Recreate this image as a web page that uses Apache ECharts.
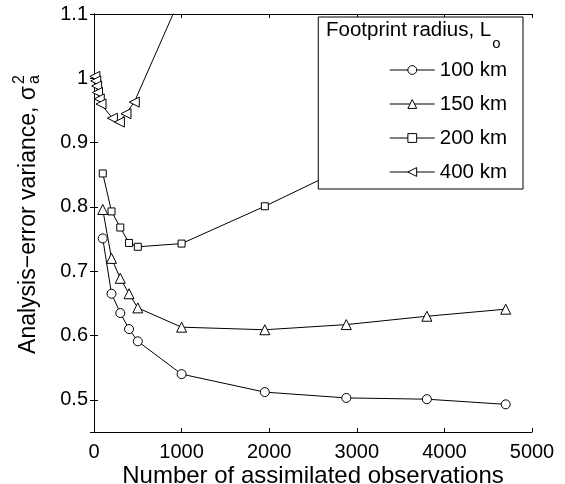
<!DOCTYPE html>
<html>
<head>
<meta charset="utf-8">
<script src="https://cdn.jsdelivr.net/npm/echarts@6/dist/echarts.min.js"></script>
<style>
  html, body { margin: 0; padding: 0; background: #fff; }
  #chart { width: 565px; height: 484px; }
</style>
</head>
<body>
<div id="chart"></div>
<script>
const FONT = "'Liberation Sans', Arial, sans-serif";

// footprint radius 100 km
const obs100 = [100, 200, 300, 400, 500, 1000, 1950, 2880, 3800, 4700];
const var100 = [0.751, 0.665, 0.635, 0.610, 0.591, 0.540, 0.512, 0.503, 0.501, 0.493];
// 150 km
const obs150 = [100, 200, 300, 400, 500, 1000, 1950, 2880, 3800, 4700];
const var150 = [0.796, 0.720, 0.689, 0.665, 0.643, 0.613, 0.609, 0.617, 0.630, 0.641];
// 200 km (rest goes under the legend)
const obs200 = [100, 200, 300, 400, 500, 1000, 1950, 2880];
const var200 = [0.852, 0.793, 0.768, 0.744, 0.738, 0.743, 0.801, 0.862];
// 400 km (runs off the top)
const obs400 = [10, 20, 30, 40, 60, 80, 210, 290, 365, 460, 1000];
const var400 = [1.003, 0.996, 0.988, 0.978, 0.968, 0.960, 0.938, 0.932, 0.945, 0.963, 1.13];

const seriesNames = ['100 km', '150 km', '200 km', '400 km'];
const xTicks = [0, 1000, 2000, 3000, 4000, 5000];

const pairs = (xs, ys) => xs.map((x, i) => [x, ys[i]]);

const chart = echarts.init(document.getElementById('chart'));

const axisLine = { show: true, lineStyle: { color: '#000', width: 1 } };
const axisTick = { show: true, inside: true, length: 4, lineStyle: { color: '#000' } };

function lineSeries(name, data, symbol, size) {
  return {
    name: name,
    type: 'line',
    data: data,
    symbol: symbol,
    symbolSize: size,
    showAllSymbol: true,
    lineStyle: { color: '#000', width: 1 },
    itemStyle: { color: '#fff', borderColor: '#000', borderWidth: 1 },
    emphasis: { disabled: true },
    z: 2
  };
}

const option = {
  animation: false,
  backgroundColor: '#fff',
  textStyle: { fontFamily: FONT },
  grid: { left: 94, right: 33, top: 14, bottom: 52, containLabel: false, outerBoundsMode: 'none' },
  title: {
    text: '{a|Footprint radius, L}{b|o}',
    left: 326,
    top: 20,
    padding: 0,
    textStyle: {
      rich: {
        a: { fontFamily: FONT, fontSize: 20.5, fontWeight: 'normal', color: '#000', lineHeight: 24, verticalAlign: 'top' },
        b: { fontFamily: FONT, fontSize: 15, fontWeight: 'normal', color: '#000', lineHeight: 15, padding: [16, 0, 0, 1], verticalAlign: 'top' }
      }
    }
  },
  legend: {
    data: seriesNames,
    orient: 'vertical',
    right: 42,
    top: 17,
    padding: [41, 16, 5, 71],
    itemWidth: 45,
    itemHeight: 11,
    itemGap: 10,
    backgroundColor: '#fff',
    borderColor: '#000',
    borderWidth: 1,
    selectedMode: false,
    lineStyle: { width: 1, color: '#000' },
    itemStyle: { borderWidth: 1, borderColor: '#000', color: '#fff' },
    textStyle: { fontFamily: FONT, fontSize: 20.5, color: '#000', lineHeight: 24 }
  },
  xAxis: [
    {
      type: 'value', min: xTicks[0], max: xTicks[xTicks.length - 1], interval: 1000,
      position: 'bottom',
      axisLine: axisLine, axisTick: axisTick, splitLine: { show: false },
      axisLabel: { fontFamily: FONT, fontSize: 20, color: '#000', margin: 10, formatter: v => String(v) },
      name: 'Number of assimilated observations',
      nameLocation: 'middle',
      nameGap: 32,
      nameMoveOverlap: false,
      nameTextStyle: { fontFamily: FONT, fontSize: 24, color: '#000' }
    },
    {
      type: 'value', min: xTicks[0], max: xTicks[xTicks.length - 1], interval: 1000,
      position: 'top',
      axisLine: axisLine, axisTick: axisTick, splitLine: { show: false },
      axisLabel: { show: false }
    }
  ],
  yAxis: [
    {
      type: 'value', min: 0.45, max: 1.1, splitNumber: 5,
      position: 'left',
      axisLine: axisLine, axisTick: axisTick, splitLine: { show: false },
      axisLabel: {
        fontFamily: FONT, fontSize: 20, color: '#000', margin: 6,
        formatter: v => (Math.abs(v - 0.45) < 1e-6 ? '' : String(+v.toFixed(2)))
      }
    },
    {
      type: 'value', min: 0.45, max: 1.1, splitNumber: 5,
      position: 'right',
      axisLine: axisLine, axisTick: axisTick, splitLine: { show: false },
      axisLabel: { show: false }
    }
  ],
  graphic: [
    {
      type: 'group',
      x: 29,
      y: 86,
      rotation: Math.PI / 2,
      children: [
        {
          type: 'text',
          style: {
            text: 'Analysis\u2212error variance, \u03c3',
            x: 0, y: 0,
            textAlign: 'right', textVerticalAlign: 'middle', verticalAlign: 'middle',
            font: '23px ' + FONT, fill: '#000'
          }
        },
        {
          type: 'text',
          style: {
            text: '2', x: 2, y: -9,
            textAlign: 'left', textVerticalAlign: 'middle', verticalAlign: 'middle',
            font: '16px ' + FONT, fill: '#000'
          }
        },
        {
          type: 'text',
          style: {
            text: 'a', x: 2, y: 6,
            textAlign: 'left', textVerticalAlign: 'middle', verticalAlign: 'middle',
            font: '16px ' + FONT, fill: '#000'
          }
        }
      ]
    }
  ],
  series: [
    lineSeries(seriesNames[0], pairs(obs100, var100), 'circle', 9),
    lineSeries(seriesNames[1], pairs(obs150, var150), 'triangle', 10),
    lineSeries(seriesNames[2], pairs(obs200, var200), 'rect', 7),
    lineSeries(seriesNames[3], pairs(obs400, var400), 'path://M0,5L10,0L10,10Z', 10)
  ]
};

chart.setOption(option);
</script>
</body>
</html>
